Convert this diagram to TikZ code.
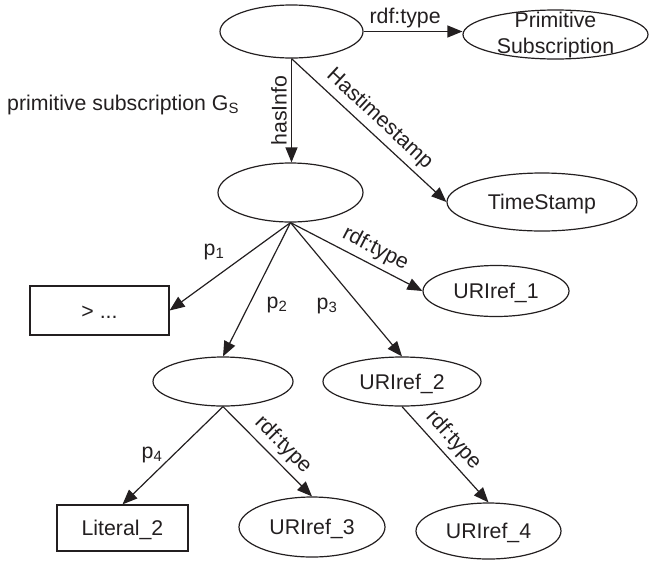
\documentclass[tikz,border=0pt]{standalone}
\usepackage{fontspec}
\setmainfont{Liberation Sans}
\usetikzlibrary{arrows.meta,shapes.geometric}
\definecolor{ink}{RGB}{35,31,32}
\begin{document}
\begin{tikzpicture}[x=1pt,y=-1pt,
  every node/.style={font=\fontsize{21.3}{26}\selectfont, text=ink},
  ell/.style={draw=ink, line width=1.2pt, ellipse, inner sep=0pt, text height=15pt, text depth=0pt},
  rbox/.style={draw=ink, line width=1.2pt, rectangle, inner sep=0pt, text height=15pt, text depth=0pt},
  conn/.style={draw=ink, line width=1.2pt, -{Triangle[length=15pt,width=12pt]}},
  slbl/.style={sloped, above, inner sep=5pt},
]
\useasboundingbox (0,0) rectangle (663,560);

% resources
\node[ell, minimum width=143pt, minimum height=53pt] (root) at (291.5,31.5) {};
\node[ell, minimum width=185pt, minimum height=49pt,
      label={[align=center, inner sep=0pt]center:Primitive\\Subscription}] (prim) at (555.5,34.5) {};
\node[ell, minimum width=145pt, minimum height=59pt] (info) at (290.5,192.5) {};
\node[ell, minimum width=190pt, minimum height=58pt] (ts) at (542,202) {TimeStamp};
\node[rbox, minimum width=139pt, minimum height=49pt] (cmp) at (99.5,310.5) {> ...};
\node[ell, minimum width=146pt, minimum height=51pt] (u1) at (496,291) {URIref\_1};
\node[ell, minimum width=140pt, minimum height=49pt] (sub) at (223,381.5) {};
\node[ell, minimum width=158pt, minimum height=49pt] (u2) at (402,381.5) {URIref\_2};
\node[rbox, minimum width=131pt, minimum height=46pt] (lit) at (122.5,528) {Literal\_2};
\node[ell, minimum width=146pt, minimum height=60pt] (u3) at (312,527) {URIref\_3};
\node[ell, minimum width=145pt, minimum height=56pt] (u4) at (488.5,531) {URIref\_4};

% graph caption
\node[anchor=base west, inner sep=0pt] (title) at (7,110) {primitive subscription G\textsubscript{S}};

% properties
\draw[conn] (root.east) -- node[above, pos=0.42, inner sep=3pt] (t0) {rdf:type} (root.east -| prim.west);
\draw[conn] (root.south) -- node[rotate=90, anchor=south, inner sep=4pt] (t1) {hasInfo} (root.south |- info.north);
\draw[conn] (root.south) -- node[slbl, pos=0.5] (t2) {Hastimestamp} (ts.west);

\draw[conn] (info.south) -- (cmp.east);
\draw[conn] (info.south) -- (sub.north);
\draw[conn] (info.south) -- (u2.north);
\draw[conn] (info.south) -- node[slbl, pos=0.59] (t3) {rdf:type} (u1.west);

\draw[conn] (sub.south) -- (lit.north);
\draw[conn] (sub.south) -- node[slbl, pos=0.55] (t4) {rdf:type} (u3.north);
\draw[conn] (u2.south) -- node[slbl, pos=0.46] (t5) {rdf:type} (u4.north);

% predicate names
\node (p1) at (214,252) {p\textsubscript{1}};
\node (p2) at (277,305) {p\textsubscript{2}};
\node (p3) at (327,306) {p\textsubscript{3}};
\node (p4) at (152,455) {p\textsubscript{4}};
\end{tikzpicture}
\end{document}
